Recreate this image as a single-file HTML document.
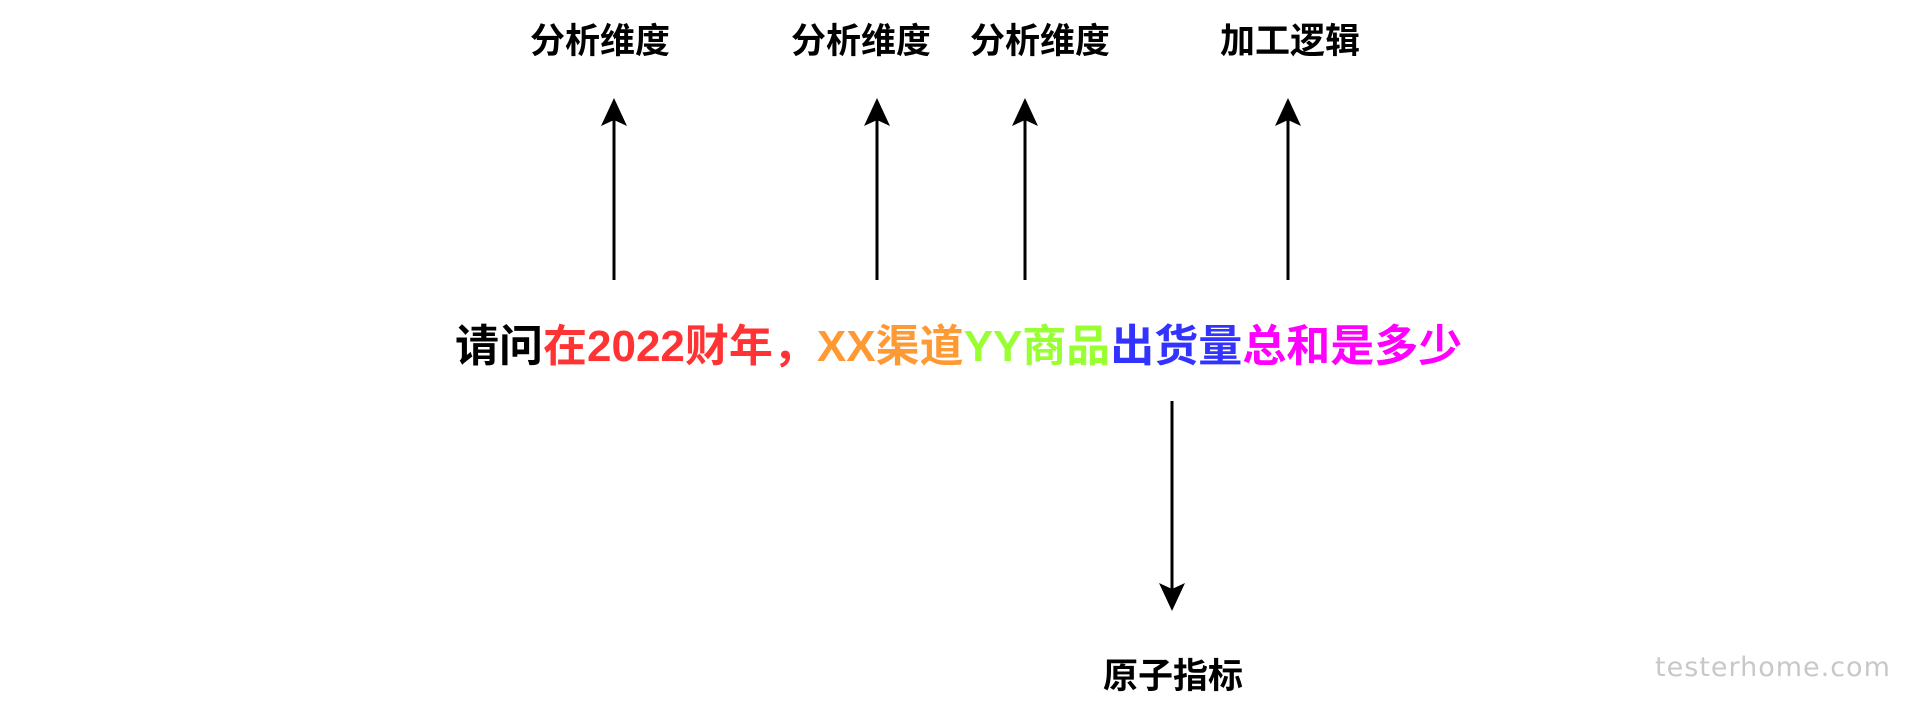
<!DOCTYPE html>
<html><head><meta charset="utf-8"><style>
html,body{margin:0;padding:0;background:#fff;width:1920px;height:715px;overflow:hidden;position:relative;}
.t{position:absolute;font-family:"Liberation Sans","Noto Sans CJK SC",sans-serif;font-weight:bold;white-space:nowrap;}
.lbl{font-size:35px;color:#000;transform:translateX(-50%);}
</style></head><body>
<div class="t lbl" style="left:600px;top:13px">分析维度</div>
<div class="t lbl" style="left:861px;top:13px">分析维度</div>
<div class="t lbl" style="left:1040px;top:13px">分析维度</div>
<div class="t lbl" style="left:1290px;top:13px">加工逻辑</div>
<div class="t lbl" style="left:1173px;top:648px">原子指标</div>
<div class="t" style="left:455px;top:322px;font-size:44px;line-height:50px"><span style="color:#000">请问</span><span style="color:#ff3333">在2022财年，</span><span style="color:#ff9933">XX渠道</span><span style="color:#99ff33">YY商品</span><span style="color:#3333ff">出货量</span><span style="color:#ff00ff">总和是多少</span></div>
<div class="t" style="left:1655px;top:652px;font-size:27px;font-weight:normal;color:#c8c8c8;font-family:'DejaVu Sans',sans-serif;letter-spacing:1px">testerhome.com</div>
<svg width="1920" height="715" style="position:absolute;left:0;top:0">
<g stroke="#000" stroke-width="3">
<line x1="614" y1="280" x2="614" y2="110"/>
<line x1="877" y1="280" x2="877" y2="110"/>
<line x1="1025" y1="280" x2="1025" y2="110"/>
<line x1="1288" y1="280" x2="1288" y2="110"/>
<line x1="1172" y1="401" x2="1172" y2="600"/>
</g>
<g fill="#000">
<path d="M614 98 L627 126 L614 120 L601 126 Z"/>
<path d="M877 98 L890 126 L877 120 L864 126 Z"/>
<path d="M1025 98 L1038 126 L1025 120 L1012 126 Z"/>
<path d="M1288 98 L1301 126 L1288 120 L1275 126 Z"/>
<path d="M1172 611 L1185 583 L1172 589 L1159 583 Z"/>
</g>
</svg>
</body></html>
